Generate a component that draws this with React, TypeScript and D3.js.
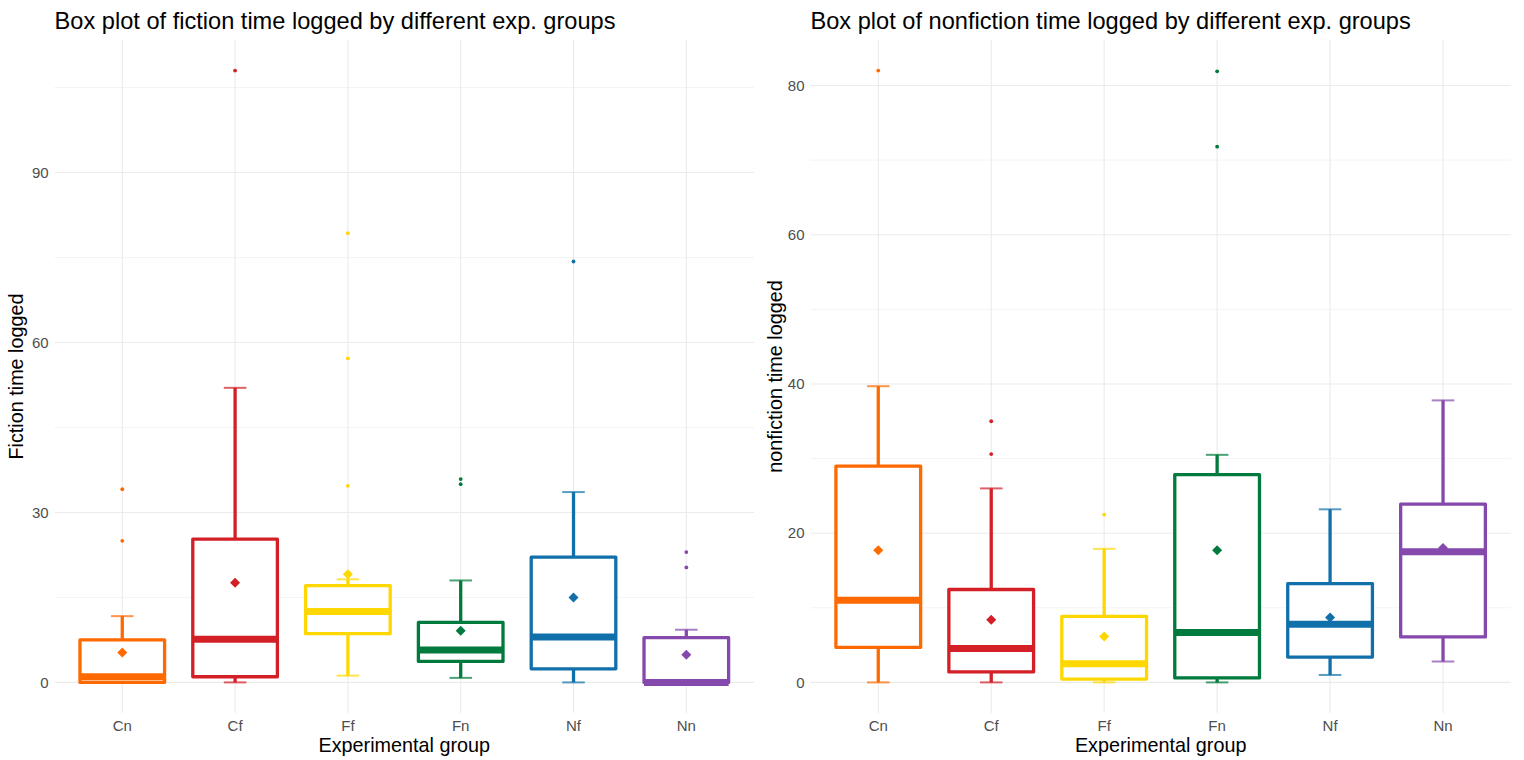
import React from "react";
import * as d3 from "d3";

const groups = ["Cn", "Cf", "Ff", "Fn", "Nf", "Nn"];
const groupColors = ["#FF6A00", "#D31F26", "#FFD700", "#007A3D", "#1170AA", "#8548AD"];

// Fiction
const fictionLower = [0, 0, 1.2, 0.8, 0, 0];
const fictionQ1 = [0, 1.0, 8.6, 3.7, 2.4, 0];
const fictionMedian = [1.0, 7.6, 12.5, 5.7, 8.0, 0];
const fictionQ3 = [7.5, 25.3, 17.1, 10.6, 22.1, 7.9];
const fictionUpper = [11.7, 52, 18.2, 18.0, 33.6, 9.3];
const fictionMean = [5.3, 17.6, 19.1, 9.1, 15.0, 4.9];
const fictionOutliers = [[25, 34.1], [108], [34.7, 57.2, 79.3], [35, 35.9], [74.3], [20.3, 23]];
const fictionTicks = [0, 30, 60, 90];
const fictionMinor = [15, 45, 75, 105];

// Nonfiction
const nonfictionLower = [0, 0, 0, 0, 1.0, 2.8];
const nonfictionQ1 = [4.7, 1.4, 0.45, 0.6, 3.4, 6.1];
const nonfictionMedian = [11.0, 4.55, 2.5, 6.7, 7.8, 17.5];
const nonfictionQ3 = [29.0, 12.45, 8.85, 27.85, 13.25, 23.9];
const nonfictionUpper = [39.7, 26.0, 17.9, 30.5, 23.2, 37.8];
const nonfictionMean = [17.7, 8.4, 6.15, 17.7, 8.7, 18.0];
const nonfictionOutliers = [[82], [30.6, 35], [22.5], [71.8, 81.9], [], []];
const nonfictionTicks = [0, 20, 40, 60, 80];
const nonfictionMinor = [10, 30, 50, 70];

const FONT = "'Liberation Sans', Arial, sans-serif";

type PanelProps = {
  title: string;
  yTitle: string;
  left: number;
  right: number;
  lower: number[];
  q1: number[];
  median: number[];
  q3: number[];
  upper: number[];
  mean: number[];
  outliers: number[][];
  ticks: number[];
  minor: number[];
  yTitleX: number;
};

function Panel(p: PanelProps) {
  const top = 40;
  const bottom = 713;
  const maxV = d3.max(p.outliers.flat().concat(p.upper)) as number;
  const minV = 0;
  const pad = (maxV - minV) * 0.05;
  const y = d3.scaleLinear().domain([minV - pad, maxV + pad]).range([bottom, top]);
  const x = d3.scaleLinear().domain([-0.6, groups.length - 0.4]).range([p.left, p.right]);
  const step = x(1) - x(0);
  const boxW = step * 0.75;
  const capW = step * 0.2;
  const grid = "#EBEBEB";
  const diamond = d3.symbol().type(d3.symbolSquare).size(50)();
  const midX = (p.left + p.right) / 2;
  const midY = (top + bottom) / 2;

  return (
    <g>
      {p.minor.map((t) => (
        <line key={"mi" + t} x1={p.left} x2={p.right} y1={y(t)} y2={y(t)} stroke={grid} strokeWidth={0.6} />
      ))}
      {p.ticks.map((t) => (
        <line key={"ma" + t} x1={p.left} x2={p.right} y1={y(t)} y2={y(t)} stroke={grid} strokeWidth={1.1} />
      ))}
      {groups.map((g, i) => (
        <line key={"v" + g} x1={x(i)} x2={x(i)} y1={top} y2={bottom} stroke={grid} strokeWidth={1.1} />
      ))}
      {p.ticks.map((t) => (
        <text key={"yt" + t} x={p.left - 6} y={y(t)} dy="0.35em" textAnchor="end" fontSize={15} fill="#4D4D4D" fontFamily={FONT}>
          {t}
        </text>
      ))}
      {groups.map((g, i) => (
        <text key={"xt" + g} x={x(i)} y={731} textAnchor="middle" fontSize={15} fill="#4D4D4D" fontFamily={FONT}>
          {g}
        </text>
      ))}
      {groups.map((g, i) => {
        const c = groupColors[i];
        const cx = x(i);
        return (
          <g key={"b" + g}>
            <line x1={cx - capW / 2} x2={cx + capW / 2} y1={y(p.lower[i])} y2={y(p.lower[i])} stroke={c} strokeWidth={2} strokeOpacity={0.7} />
            <line x1={cx - capW / 2} x2={cx + capW / 2} y1={y(p.upper[i])} y2={y(p.upper[i])} stroke={c} strokeWidth={2} strokeOpacity={0.7} />
            <line x1={cx} x2={cx} y1={y(p.q3[i])} y2={y(p.upper[i])} stroke={c} strokeWidth={3.3} />
            <line x1={cx} x2={cx} y1={y(p.q1[i])} y2={y(p.lower[i])} stroke={c} strokeWidth={3.3} />
            <rect
              x={cx - boxW / 2}
              y={y(p.q3[i])}
              width={boxW}
              height={Math.max(0.01, y(p.q1[i]) - y(p.q3[i]))}
              fill="white"
              stroke={c}
              strokeWidth={3.3}
              strokeLinejoin="round"
            />
            <line x1={cx - boxW / 2} x2={cx + boxW / 2} y1={y(p.median[i])} y2={y(p.median[i])} stroke={c} strokeWidth={7} />
            {p.outliers[i].map((v, k) => (
              <circle key={k} cx={cx} cy={y(v)} r={1.9} fill={c} />
            ))}
            <path d={diamond as string} transform={`translate(${cx},${y(p.mean[i])}) rotate(45)`} fill={c} />
          </g>
        );
      })}
      <text x={p.left} y={29} fontSize={23.6} fill="#000" fontFamily={FONT}>
        {p.title}
      </text>
      <text x={midX} y={752} textAnchor="middle" fontSize={19.8} fill="#000" fontFamily={FONT}>
        Experimental group
      </text>
      <text
        transform={`translate(${p.yTitleX},${midY}) rotate(-90)`}
        textAnchor="middle"
        fontSize={19.8}
        fill="#000"
        fontFamily={FONT}
      >
        {p.yTitle}
      </text>
    </g>
  );
}

export default function App() {
  return (
    <svg
      width={1524}
      height={760}
      style={{ position: "fixed", left: 0, top: 0, background: "white" }}
    >
      <rect width={1524} height={760} fill="white" />
      <Panel
        title="Box plot of fiction time logged by different exp. groups"
        yTitle="Fiction time logged"
        left={54.6}
        right={754}
        lower={fictionLower}
        q1={fictionQ1}
        median={fictionMedian}
        q3={fictionQ3}
        upper={fictionUpper}
        mean={fictionMean}
        outliers={fictionOutliers}
        ticks={fictionTicks}
        minor={fictionMinor}
        yTitleX={23}
      />
      <Panel
        title="Box plot of nonfiction time logged by different exp. groups"
        yTitle="nonfiction time logged"
        left={810.5}
        right={1510.8}
        lower={nonfictionLower}
        q1={nonfictionQ1}
        median={nonfictionMedian}
        q3={nonfictionQ3}
        upper={nonfictionUpper}
        mean={nonfictionMean}
        outliers={nonfictionOutliers}
        ticks={nonfictionTicks}
        minor={nonfictionMinor}
        yTitleX={782}
      />
    </svg>
  );
}
